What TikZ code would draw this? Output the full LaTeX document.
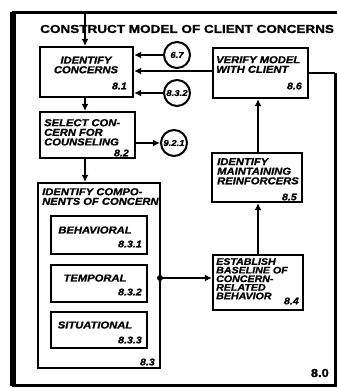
\documentclass[tikz,border=0pt]{standalone}
\usepackage{fontspec}
\setmainfont{Liberation Sans}[FakeStretch=1.12, BoldFeatures={FakeBold=1.2}, BoldItalicFeatures={FakeBold=1.2}]
\usetikzlibrary{arrows.meta}
\begin{document}
\begin{tikzpicture}[x=1pt,y=-1pt,
  box/.style={draw, line width=2.3pt, rectangle, inner sep=0pt},
  circ/.style={draw, line width=2pt, circle, minimum size=26pt, inner sep=0pt, font=\fontsize{8.5}{8.5}\selectfont\bfseries\itshape},
  txt/.style={inner sep=0pt, font=\fontsize{10}{9.6}\selectfont\bfseries\itshape, align=left},
  ctxt/.style={txt, align=center},
  num/.style={inner sep=0pt, font=\fontsize{9.5}{9.5}\selectfont\bfseries\itshape},
  arr/.style={line width=2.3pt, -{Latex[length=7pt,width=7pt]}},
  ln/.style={line width=2.3pt}]
\useasboundingbox (0,0) rectangle (337,388);
% outer frame
\coordinate (tl) at (13,12);
\coordinate (tr) at (337,12);
\coordinate (rt) at (335,73);
\coordinate (br) at (335,385);
\coordinate (bl) at (13,385);
\draw[line width=3pt] (tr) -- (tl) -- (bl) -- (br) -- (rt);
\draw[line width=5.5pt] (13,12) -- (13,386);
% boxes
\node[box, minimum width=93pt, minimum height=50pt] (b1) at (86.5,72) {};
\node[box, minimum width=95pt, minimum height=50pt] (b6) at (260.5,73) {};
\node[box, minimum width=95pt, minimum height=46pt] (b2) at (87.5,135) {};
\node[box, minimum width=122pt, minimum height=185pt] (b3) at (99,275.5) {};
\node[box, minimum width=96pt, minimum height=38pt] (b31) at (99,235) {};
\node[box, minimum width=96pt, minimum height=37pt] (b32) at (99,283.5) {};
\node[box, minimum width=96pt, minimum height=36pt] (b33) at (99,330) {};
\node[box, minimum width=90pt, minimum height=49pt] (b5) at (257,177.5) {};
\node[box, minimum width=90pt, minimum height=55pt] (b4) at (258,282.5) {};
% circles
\node[circ] (c1) at (177,55) {6.7};
\node[circ] (c2) at (177,93) {8.3.2};
\node[circ] (c3) at (174,143) {9.2.1};
% title
\coordinate (top) at (85,12);
\draw[arr] (top) -- (b1.north -| top);
\node[inner sep=0pt, font=\fontsize{11.5}{11.5}\selectfont\bfseries, anchor=west] (title) at (40,29) {\scalebox{1.05}[1]{CONSTRUCT MODEL OF CLIENT CONCERNS}};
% texts
\node[ctxt] (t1) at (86,65) {IDENTIFY\\CONCERNS};
\node[num, anchor=east] (n1) at (127,86) {8.1};
\node[txt, anchor=north west] (t6) at (216,56) {VERIFY MODEL\\WITH CLIENT};
\node[num, anchor=east] (n6) at (302,86) {8.6};
\node[txt, anchor=north west] (t2) at (44,119) {SELECT CON-\\CERN FOR\\COUNSELING};
\node[num, anchor=east] (n2) at (129,153) {8.2};
\node[txt, anchor=north west] (t3) at (42,188) {IDENTIFY COMPO-\\NENTS OF CONCERN};
\node[ctxt] (t31) at (95,230) {BEHAVIORAL};
\node[num, anchor=east] (n31) at (142,244) {8.3.1};
\node[ctxt] (t32) at (95,278) {TEMPORAL};
\node[num, anchor=east] (n32) at (142,292) {8.3.2};
\node[ctxt] (t33) at (95,325) {SITUATIONAL};
\node[num, anchor=east] (n33) at (142,340) {8.3.3};
\node[num, anchor=east] (n3) at (155,362) {8.3};
\node[txt, anchor=north west] (t5) at (217,158) {IDENTIFY\\MAINTAINING\\REINFORCERS};
\node[num, anchor=east] (n5) at (297,197) {8.5};
\node[txt, anchor=north west, font=\fontsize{9.5}{8.6}\selectfont\bfseries\itshape] (t4) at (216,258) {ESTABLISH\\BASELINE OF\\CONCERN-\\RELATED\\BEHAVIOR};
\node[num, anchor=east] (n4) at (299,301) {8.4};
\node[inner sep=0pt, font=\fontsize{11.5}{11.5}\selectfont\bfseries, anchor=east] (n0) at (329,373) {8.0};
% connectors
\draw[arr] (c1.west) -- (c1.west -| b1.east);
\draw[arr] (c2.west) -- (c2.west -| b1.east);
\draw[arr] (b6.west |- 0,71) -- (b1.east |- 0,71);
\draw[ln] (b6.east |- rt) -- (rt);
\draw[arr] (b1.south -| top) -- (b2.north -| top);
\draw[arr] (b2.east |- c3) -- (c3.west);
\draw[arr] (b2.south -| top) -- (b3.north -| top);
\coordinate (j) at (160,278);
\fill (j) circle (3pt);
\draw[arr] (j) -- (j -| b4.west);
\draw[arr] (b4.north) -- (b5.south -| b4.north);
\draw[arr] (b5.north -| b4.north) -- (b6.south -| b4.north);
\end{tikzpicture}
\end{document}
